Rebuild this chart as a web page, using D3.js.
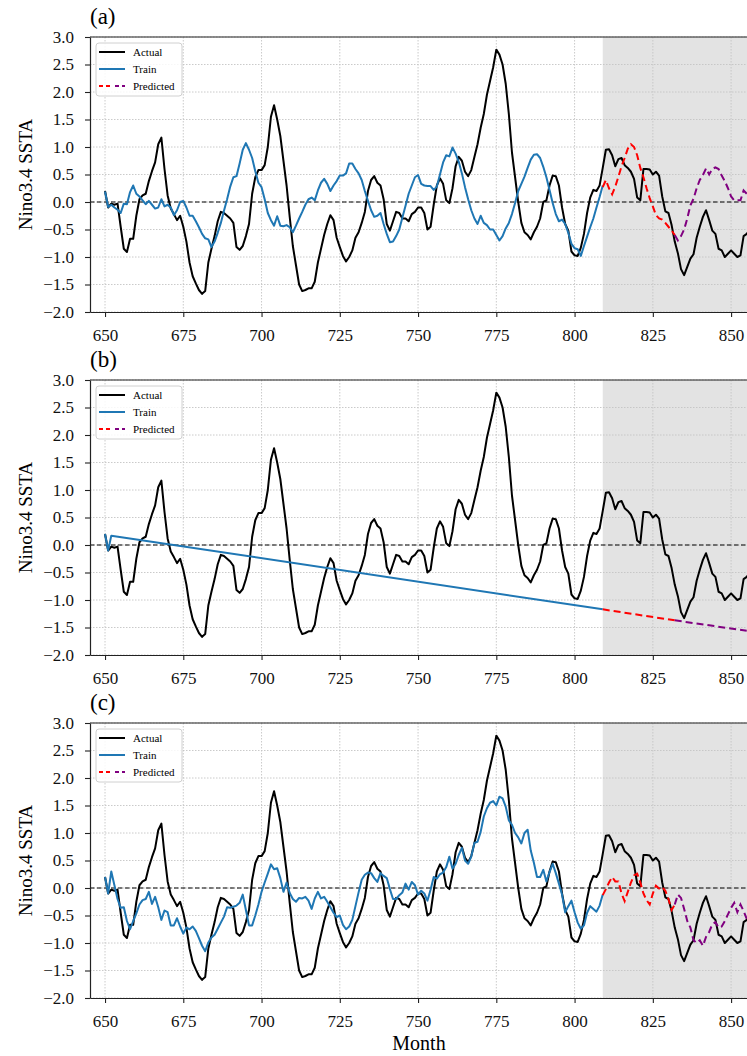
<!DOCTYPE html>
<html>
<head>
<meta charset="utf-8">
<script src="https://cdn.jsdelivr.net/npm/d3@7"></script>
<style>
  body { margin: 0; background: #fff; }
  svg { display: block; }
  text { font-family: "Liberation Serif", "Times New Roman", serif; }
</style>
</head>
<body>
<svg id="chart" width="747" height="1056"></svg>
<script>
// ---- data ----
const startMonth = 650;

// Nino3.4 SSTA, months 650 .. 856
const actual = [
  0.2, -0.1, -0.03, -0.05, -0.03, -0.45, -0.85, -0.91, -0.67, -0.67,
  -0.25, 0.05, 0.12, 0.15, 0.38, 0.56, 0.72, 1.05, 1.17, 0.6,
  0.12, -0.12, -0.22, -0.33, -0.25, -0.45, -0.72, -1.1, -1.35, -1.48,
  -1.6, -1.67, -1.62, -1.1, -0.85, -0.62, -0.35, -0.18, -0.2, -0.25,
  -0.3, -0.38, -0.82, -0.87, -0.8, -0.62, -0.4, 0.15, 0.45, 0.58,
  0.58, 0.67, 1.0, 1.55, 1.76, 1.5, 1.2, 0.75, 0.3, -0.27,
  -0.8, -1.15, -1.5, -1.62, -1.6, -1.57, -1.57, -1.45, -1.1, -0.85,
  -0.6, -0.4, -0.24, -0.33, -0.65, -0.82, -0.98, -1.08, -1.0, -0.88,
  -0.65, -0.55, -0.38, -0.18, 0.2, 0.4, 0.47, 0.35, 0.3, 0.05,
  -0.4, -0.52, -0.35, -0.18, -0.2, -0.3, -0.3, -0.35, -0.22, -0.18,
  -0.1, -0.1, -0.2, -0.5, -0.45, -0.05, 0.3, 0.43, 0.33, 0.03,
  -0.02, 0.25, 0.65, 0.82, 0.75, 0.55, 0.47, 0.58, 0.82, 1.05,
  1.35, 1.6, 1.95, 2.2, 2.45, 2.77, 2.68, 2.5, 2.15, 1.6,
  0.9, 0.45, 0.0, -0.38, -0.55, -0.6, -0.68, -0.55, -0.45, -0.3,
  0.0, 0.03, 0.3, 0.48, 0.47, 0.3, -0.1, -0.4, -0.52, -0.9,
  -0.97, -0.98, -0.83, -0.58, -0.2, 0.08, 0.22, 0.2, 0.3, 0.62,
  0.95, 0.96, 0.85, 0.65, 0.78, 0.8, 0.67, 0.62, 0.55, 0.42,
  0.08, 0.03, 0.6, 0.6, 0.59, 0.5, 0.55, 0.48, 0.1, -0.17,
  -0.2, -0.42, -0.72, -0.93, -1.22, -1.33, -1.18, -1.03, -0.95, -0.65,
  -0.45, -0.27, -0.15, -0.33, -0.52, -0.58, -0.85, -0.88, -1.0, -0.94,
  -0.88, -0.94, -1.0, -0.97, -0.62, -0.58, -0.5
];

// (a) train fit, months 650 .. 809
const trainA = [
  0.19, -0.09, -0.05, -0.1, -0.14, -0.2, -0.03, -0.04, 0.18, 0.3,
  0.15, 0.1, 0.03, -0.04, 0.02, -0.05, -0.12, -0.1, 0.05, -0.08,
  -0.05, -0.1, -0.24, -0.15, 0.0, 0.02, -0.1, -0.25, -0.25, -0.35,
  -0.46, -0.58, -0.66, -0.68, -0.82, -0.72, -0.56, -0.38, -0.16, 0.05,
  0.28, 0.45, 0.47, 0.7, 0.95, 1.07, 0.95, 0.8, 0.56, 0.35,
  0.27, 0.05, -0.2, -0.33, -0.43, -0.26, -0.43, -0.44, -0.42, -0.46,
  -0.55, -0.43, -0.3, -0.18, -0.05, 0.05, 0.08, 0.03, 0.21, 0.35,
  0.42, 0.33, 0.2, 0.3, 0.38, 0.48, 0.48, 0.52, 0.7, 0.7,
  0.6, 0.52, 0.4, 0.2, 0.02, -0.15, -0.27, -0.25, -0.2, -0.4,
  -0.58, -0.73, -0.72, -0.62, -0.5, -0.28, -0.07, 0.15, 0.3, 0.45,
  0.49, 0.33, 0.3, 0.29, 0.29, 0.22, 0.28, 0.5, 0.72, 0.85,
  0.83, 0.99, 0.88, 0.73, 0.52, 0.27, 0.05, -0.15, -0.3, -0.4,
  -0.25, -0.38, -0.42, -0.5, -0.5, -0.6, -0.7, -0.62, -0.48, -0.38,
  -0.22, -0.02, 0.2, 0.33, 0.46, 0.62, 0.77, 0.86, 0.87, 0.8,
  0.64, 0.45, 0.22, -0.02, -0.22, -0.35, -0.32, -0.4, -0.56, -0.76,
  -0.84, -0.86, -0.98, -0.8, -0.63, -0.46, -0.3, -0.1, 0.09, 0.3
];

// (a) prediction, months 809 .. 855
const predA = [
  0.27, 0.4, 0.25, 0.14, 0.28, 0.46, 0.65, 0.8, 0.97, 1.05,
  1.0, 0.85, 0.62, 0.45, 0.25, 0.07, -0.08, -0.24, -0.3, -0.32,
  -0.38, -0.45, -0.52, -0.6, -0.7, -0.62, -0.5, -0.3, -0.06, 0.06,
  0.25, 0.4, 0.49, 0.61, 0.5, 0.6, 0.63, 0.6, 0.48, 0.38,
  0.25, 0.1, 0.03, 0.03, 0.03, 0.21, 0.15
];

// (b) linear trend: [month, value]
const trainB = [[650, 0.2], [651, -0.1], [652, 0.17], [809, -1.17]];
const predB = [[809, -1.17], [832, -1.37], [855, -1.56]];

// (c) train fit, months 650 .. 809
const trainC = [
  0.2, -0.1, 0.3, 0.05, -0.2, -0.36, -0.35, -0.6, -0.75, -0.6,
  -0.46, -0.3, -0.22, -0.2, -0.07, -0.29, -0.16, -0.35, -0.58, -0.41,
  -0.44, -0.68, -0.68, -0.55, -0.7, -0.83, -0.72, -0.75, -0.7, -0.78,
  -0.91, -1.05, -1.15, -0.99, -0.9, -0.85, -0.74, -0.63, -0.52, -0.35,
  -0.36, -0.34, -0.32, -0.27, -0.12, -0.4, -0.68, -0.68, -0.5, -0.3,
  -0.07, 0.1, 0.26, 0.43, 0.34, 0.36, 0.18, -0.07, 0.1, -0.09,
  -0.2, -0.25, -0.18, -0.19, -0.16, -0.23, -0.38, -0.19, -0.07, -0.19,
  -0.16, -0.25, -0.35, -0.45, -0.53, -0.5, -0.67, -0.75, -0.7, -0.58,
  -0.33, -0.08, 0.15, 0.24, 0.28, 0.27, 0.18, 0.11, 0.27, 0.22,
  0.18, -0.02, -0.2, -0.2, -0.13, -0.08, 0.08, -0.03, 0.11, 0.05,
  -0.12, -0.05, -0.1, -0.23, -0.03, 0.2, 0.17, 0.25, 0.28, 0.38,
  0.57, 0.35, 0.44, 0.6, 0.73, 0.5, 0.44, 0.57, 0.82, 0.84,
  1.02, 1.3, 1.45, 1.55, 1.58, 1.5, 1.66, 1.63, 1.48, 1.23,
  1.15, 1.0, 0.92, 0.81, 1.0, 1.06, 0.68, 0.46, 0.2, 0.2,
  0.33, 0.12, 0.29, 0.44, 0.27, 0.08, -0.12, -0.44, -0.33, -0.23,
  -0.44, -0.63, -0.74, -0.68, -0.45, -0.33, -0.38, -0.43, -0.32, -0.12
];

// (c) prediction, months 809 .. 855
const predC = [
  -0.13, -0.02, 0.1, 0.2, 0.12, 0.12, -0.1, -0.24, -0.07, 0.1,
  0.23, 0.26, 0.1, -0.1, -0.22, -0.3, -0.1, 0.04, -0.01, 0.02,
  -0.05, -0.2, -0.4, -0.3, -0.12, -0.18, -0.38, -0.6, -0.72, -0.95,
  -1.0, -0.95, -1.05, -0.89, -0.8, -0.66, -0.62, -0.72, -0.7, -0.6,
  -0.48, -0.36, -0.27, -0.44, -0.3, -0.42, -0.56
];

const trainEnd = 809;      // start of grey test region
const colourSwitch = 832;  // prediction turns from red to purple
const xTicks = [650, 675, 700, 725, 750, 775, 800, 825, 850];
const yTicks = [-2.0, -1.5, -1.0, -0.5, 0.0, 0.5, 1.0, 1.5, 2.0, 2.5, 3.0];
const panelLabels = ["(a)", "(b)", "(c)"];
const legendLabels = ["Actual", "Train", "Predicted"];

// ---- layout ----
const svg = d3.select("#chart");
const left = 90, right = 753, panelH = 275;
const panelTops = [37, 380, 723];
const xDomain = [645.2, 857];

const x = d3.scaleLinear().domain(xDomain).range([left, right]);

function toPoints(values, first) {
    return values.map((v, i) => [first + i, v]);
}

const panels = [
    { train: toPoints(trainA, startMonth), pred: toPoints(predA, trainEnd) },
    { train: trainB, pred: predB },
    { train: toPoints(trainC, startMonth), pred: toPoints(predC, trainEnd) }
];

panels.forEach((p, i) => {
    const top = panelTops[i];
    const y = d3.scaleLinear().domain([-2, 3]).range([top + panelH, top]);
    const g = svg.append("g");

    // grey test region
    g.append("rect")
        .attr("x", x(trainEnd))
        .attr("y", top)
        .attr("width", x(xDomain[1]) - x(trainEnd))
        .attr("height", panelH)
        .attr("fill", "#e3e3e3");

    // dotted grid
    g.selectAll(".vgrid")
        .data(xTicks)
        .enter()
        .append("line")
        .attr("x1", d => x(d)).attr("x2", d => x(d))
        .attr("y1", top).attr("y2", top + panelH)
        .attr("stroke", "#c4c4c4")
        .attr("stroke-width", 0.9)
        .attr("stroke-dasharray", "1.5,1.5");
    g.selectAll(".hgrid")
        .data(yTicks)
        .enter()
        .append("line")
        .attr("x1", left).attr("x2", right)
        .attr("y1", d => y(d)).attr("y2", d => y(d))
        .attr("stroke", "#c4c4c4")
        .attr("stroke-width", 0.9)
        .attr("stroke-dasharray", "1.5,1.5");

    // zero line
    g.append("line")
        .attr("x1", left).attr("x2", right)
        .attr("y1", y(0)).attr("y2", y(0))
        .attr("stroke", "#000")
        .attr("stroke-width", 1)
        .attr("stroke-dasharray", "4.5,2.5");

    const line = d3.line().x(d => x(d[0])).y(d => y(d[1]));

    g.append("path")
        .datum(toPoints(actual, startMonth))
        .attr("d", line)
        .attr("fill", "none")
        .attr("stroke", "#000")
        .attr("stroke-width", 2)
        .attr("stroke-linejoin", "round");

    g.append("path")
        .datum(p.train)
        .attr("d", line)
        .attr("fill", "none")
        .attr("stroke", "#1f77b4")
        .attr("stroke-width", 2)
        .attr("stroke-linejoin", "round");

    const predRed = p.pred.filter(d => d[0] <= colourSwitch);
    const predPurple = p.pred.filter(d => d[0] >= colourSwitch);
    [[predRed, "#ff0000"], [predPurple, "#800080"]].forEach(([pts, col]) => {
        g.append("path")
            .datum(pts)
            .attr("d", line)
            .attr("fill", "none")
            .attr("stroke", col)
            .attr("stroke-width", 2)
            .attr("stroke-dasharray", "7,4");
    });

    // axes
    const yAxis = g.append("g")
        .attr("transform", `translate(${left},0)`)
        .call(d3.axisLeft(y).tickValues(yTicks).tickFormat(d3.format(".1f"))
            .tickSize(5).tickSizeOuter(0).tickPadding(11));
    const xAxis = g.append("g")
        .attr("transform", `translate(0,${top + panelH})`)
        .call(d3.axisBottom(x).tickValues(xTicks).tickFormat(d3.format("d"))
            .tickSize(5).tickSizeOuter(0).tickPadding(12));
    [yAxis, xAxis].forEach(a => {
        a.attr("font-family", null).attr("font-size", null);
        a.selectAll("text").style("font-size", "17px").attr("fill", "#111");
        a.selectAll("line").attr("stroke", "#222").attr("stroke-width", 1.1);
        a.select(".domain").attr("stroke", "#222").attr("stroke-width", 1.2);
    });

    // top spine
    g.append("line")
        .attr("x1", left).attr("x2", right)
        .attr("y1", top).attr("y2", top)
        .attr("stroke", "#222")
        .attr("stroke-width", 1.2);

    // panel label and y label
    g.append("text")
        .attr("x", left)
        .attr("y", top - 13)
        .style("font-size", "23px")
        .text(panelLabels[i]);

    g.append("text")
        .attr("transform", `translate(32,${top + panelH / 2}) rotate(-90)`)
        .attr("text-anchor", "middle")
        .style("font-size", "19px")
        .text("Nino3.4 SSTA");

    // legend
    const lg = g.append("g").attr("transform", `translate(96,${top + 6})`);
    lg.append("rect")
        .attr("width", 86).attr("height", 53).attr("rx", 3)
        .attr("fill", "#fff").attr("fill-opacity", 0.85)
        .attr("stroke", "#d0d0d0");
    legendLabels.forEach((lab, k) => {
        const ly = 9 + k * 17;
        if (k < 2) {
            lg.append("line")
                .attr("x1", 3).attr("x2", 29).attr("y1", ly).attr("y2", ly)
                .attr("stroke", k === 0 ? "#000" : "#1f77b4")
                .attr("stroke-width", 2);
        } else {
            lg.append("line")
                .attr("x1", 3).attr("x2", 14).attr("y1", ly).attr("y2", ly)
                .attr("stroke", "#ff0000").attr("stroke-width", 2)
                .attr("stroke-dasharray", "4,3");
            lg.append("line")
                .attr("x1", 19).attr("x2", 29).attr("y1", ly).attr("y2", ly)
                .attr("stroke", "#800080").attr("stroke-width", 2)
                .attr("stroke-dasharray", "4,3");
        }
        lg.append("text")
            .attr("x", 37).attr("y", ly)
            .attr("dy", "0.35em")
            .style("font-size", "11px")
            .text(lab);
    });
});

svg.append("text")
    .attr("x", 419)
    .attr("y", 1050)
    .attr("text-anchor", "middle")
    .style("font-size", "20px")
    .text("Month");
</script>
</body>
</html>
